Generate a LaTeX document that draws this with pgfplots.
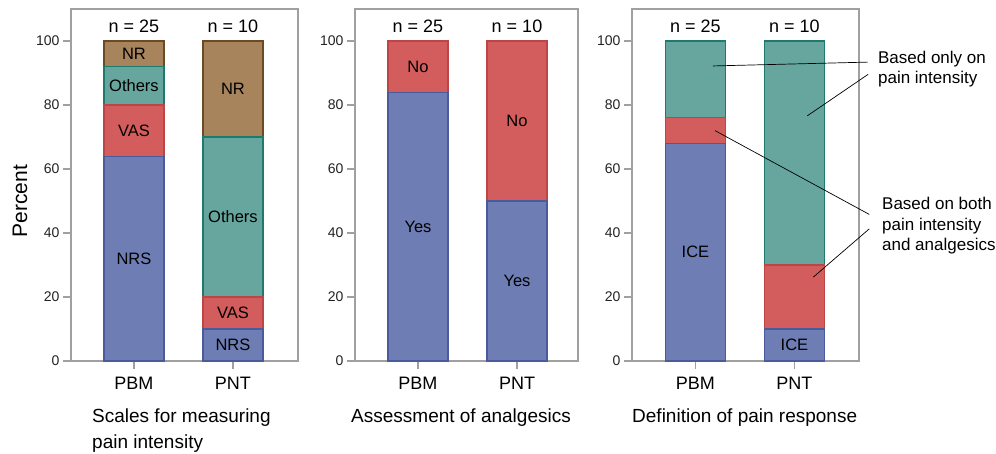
\documentclass[border=0pt]{standalone}
\usepackage{fontspec}
\setmainfont{Liberation Sans}
\usepackage{pgfplots}
\pgfplotsset{compat=1.18}
\definecolor{cblue}{HTML}{6E7EB4}
\definecolor{cblueE}{HTML}{4A5A9C}
\definecolor{cred}{HTML}{D35C5C}
\definecolor{credE}{HTML}{BC4646}
\definecolor{cteal}{HTML}{66A69E}
\definecolor{ctealE}{HTML}{1D7A6D}
\definecolor{cbrown}{HTML}{A8845C}
\definecolor{cbrownE}{HTML}{6B4A26}
\definecolor{axgray}{HTML}{A0A0A0}
\definecolor{tickc}{HTML}{222222}
\pgfplotsset{
  panel/.style={
    scale only axis, height=352pt,
    ymin=0, ymax=110, ytick={0,20,40,60,80,100},
    xtick={0,1}, xticklabels={PBM,PNT},
    ybar stacked, bar width=60pt,
    axis line style={draw=axgray, line width=1.8pt},
    tick style={draw=axgray, line width=1.2pt},
    tick align=outside, major tick length=8pt,
    xtick pos=bottom, ytick pos=left,
    yticklabel style={font=\fontsize{14}{16}\selectfont, text=tickc},
    xticklabel style={font=\fontsize{18}{21}\selectfont, yshift=-5pt},
    /pgf/number format/assume math mode=true,
    clip=false,
    xlabel style={anchor=base west, align=left, inner sep=0pt, font=\fontsize{19}{26}\selectfont},
  },
  bl/.style={fill=cblue, draw=cblueE, line width=1.3pt},
  rd/.style={fill=cred, draw=credE, line width=1.3pt},
  tl/.style={fill=cteal, draw=ctealE, line width=1.3pt},
  br/.style={fill=cbrown, draw=cbrownE, line width=1.3pt},
}
\tikzset{
  nlab/.style={anchor=base, font=\fontsize{18}{21}\selectfont},
  blab/.style={font=\fontsize{16.5}{19}\selectfont, inner sep=0pt},
  alab/.style={anchor=base west, font=\fontsize{17}{20}\selectfont, inner sep=0pt},
}
\begin{document}
\begin{tikzpicture}
\path[use as bounding box] (0,0) rectangle (996pt,454pt);
% Panel 1
\begin{axis}[panel, at={(71pt,93pt)}, anchor=south west, width=227pt,
  xmin=-0.636, xmax=1.657,
  ylabel={Percent},
  ylabel style={at={(axis description cs:-0.225,0.4545)}, anchor=center, font=\fontsize{21}{24}\selectfont},
  xlabel={Scales for measuring\\pain intensity},
  xlabel style={at={(axis description cs:0.0925,-0.2485)}}]
\addplot[bl] coordinates {(0,64) (1,10)};
\addplot[rd] coordinates {(0,16) (1,10)};
\addplot[tl] coordinates {(0,12) (1,50)};
\addplot[br] coordinates {(0,8) (1,30)};
\coordinate (a0) at (axis cs:0,102.7);
\coordinate (a1) at (axis cs:1,102.7);
\coordinate (a2) at (axis cs:0,32);
\coordinate (a3) at (axis cs:0,72);
\coordinate (a4) at (axis cs:0,86);
\coordinate (a5) at (axis cs:0,96);
\coordinate (a6) at (axis cs:1,5);
\coordinate (a7) at (axis cs:1,15);
\coordinate (a8) at (axis cs:1,45);
\coordinate (a9) at (axis cs:1,85);
\end{axis}
\node[nlab] at (a0) {n = 25};
\node[nlab] at (a1) {n = 10};
\node[blab] at (a2) {NRS};
\node[blab] at (a3) {VAS};
\node[blab] at (a4) {Others};
\node[blab] at (a5) {NR};
\node[blab] at (a6) {NRS};
\node[blab] at (a7) {VAS};
\node[blab] at (a8) {Others};
\node[blab] at (a9) {NR};
% Panel 2
\begin{axis}[panel, at={(355pt,93pt)}, anchor=south west, width=223pt,
  xmin=-0.636, xmax=1.616,
  xlabel={Assessment of analgesics},
  xlabel style={at={(axis description cs:-0.018,-0.176)}}]
\addplot[bl] coordinates {(0,84) (1,50)};
\addplot[rd] coordinates {(0,16) (1,50)};
\coordinate (b0) at (axis cs:0,102.7);
\coordinate (b1) at (axis cs:1,102.7);
\coordinate (b2) at (axis cs:0,42);
\coordinate (b3) at (axis cs:0,92);
\coordinate (b4) at (axis cs:1,25);
\coordinate (b5) at (axis cs:1,75);
\end{axis}
\node[nlab] at (b0) {n = 25};
\node[nlab] at (b1) {n = 10};
\node[blab] at (b2) {Yes};
\node[blab] at (b3) {No};
\node[blab] at (b4) {Yes};
\node[blab] at (b5) {No};
% Panel 3
\begin{axis}[panel, at={(632pt,93pt)}, anchor=south west, width=227pt,
  xmin=-0.641, xmax=1.652,
  xlabel={Definition of pain response},
  xlabel style={at={(axis description cs:0,-0.176)}}]
\addplot[bl] coordinates {(0,68) (1,10)};
\addplot[rd] coordinates {(0,8) (1,20)};
\addplot[tl] coordinates {(0,24) (1,70)};
\coordinate (c0) at (axis cs:0,102.7);
\coordinate (c1) at (axis cs:1,102.7);
\coordinate (c2) at (axis cs:0,34);
\coordinate (c3) at (axis cs:1,5);
\coordinate (l1a) at (axis cs:0.177,92.2);
\coordinate (l1b) at (axis cs:1.742,93.4);
\coordinate (l2a) at (axis cs:1.129,76.6);
\coordinate (l2b) at (axis cs:1.745,89.6);
\coordinate (l3a) at (axis cs:0.197,72.0);
\coordinate (l3b) at (axis cs:1.756,45.8);
\coordinate (l4a) at (axis cs:1.19,26.2);
\coordinate (l4b) at (axis cs:1.756,41.3);
\coordinate (t1) at (axis cs:1.843,93.0);
\coordinate (t2) at (axis cs:1.843,86.8);
\coordinate (t3) at (axis cs:1.884,47.2);
\coordinate (t4) at (axis cs:1.884,40.9);
\coordinate (t5) at (axis cs:1.884,34.4);
\end{axis}
\node[nlab] at (c0) {n = 25};
\node[nlab] at (c1) {n = 10};
\node[blab] at (c2) {ICE};
\node[blab] at (c3) {ICE};
\draw[black, line width=0.7pt] (l1a) -- (l1b);
\draw[black, line width=0.7pt] (l2a) -- (l2b);
\draw[black, line width=0.7pt] (l3a) -- (l3b);
\draw[black, line width=0.7pt] (l4a) -- (l4b);
\node[alab] at (t1) {Based only on};
\node[alab] at (t2) {pain intensity};
\node[alab] at (t3) {Based on both};
\node[alab] at (t4) {pain intensity};
\node[alab] at (t5) {and analgesics};
\end{tikzpicture}
\end{document}
